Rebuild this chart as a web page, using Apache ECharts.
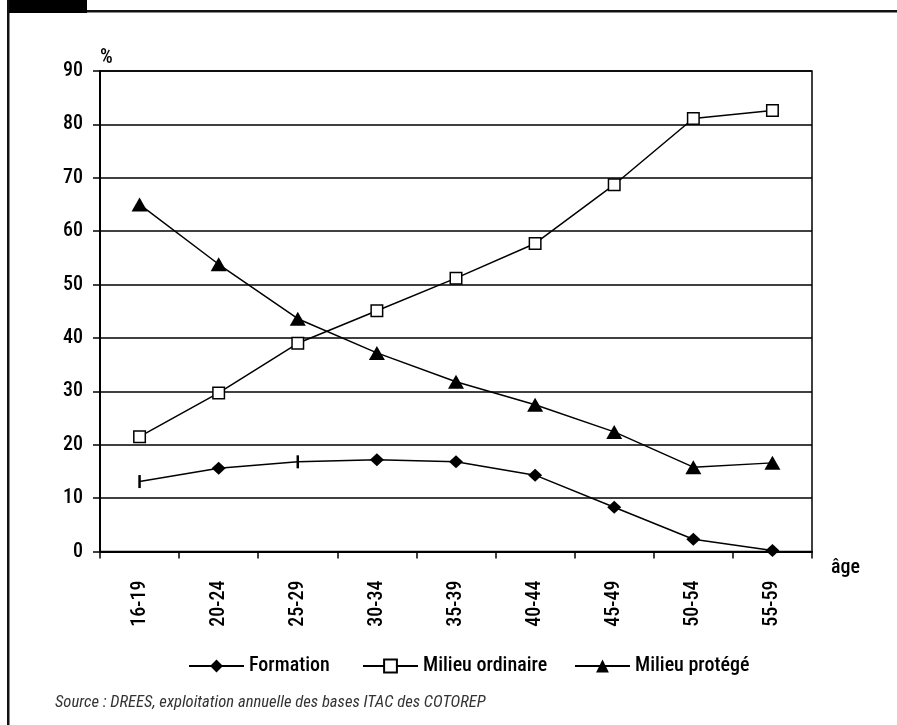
<!DOCTYPE html>
<html>
<head>
<meta charset="utf-8">
<title>Insertion selon l'âge</title>
<script src="https://cdn.jsdelivr.net/npm/echarts@6/dist/echarts.min.js"></script>
<style>
  html, body { margin: 0; padding: 0; background: #fff; }
  #chart { width: 897px; height: 725px; }
</style>
</head>
<body>
<div id="chart"></div>
<script>
// Age groups on the x axis
const ageGroups = ['16-19', '20-24', '25-29', '30-34', '35-39', '40-44', '45-49', '50-54', '55-59'];

// Shares (%) per age group
const formation = [13.1, 15.6, 16.8, 17.2, 16.8, 14.3, 8.3, 2.3, 0.2];
const milieuOrdinaire = [21.5, 29.7, 39.0, 45.1, 51.2, 57.7, 68.7, 81.1, 82.6];
const milieuProtege = [65.0, 53.8, 43.6, 37.2, 31.8, 27.5, 22.4, 15.8, 16.6];

// Y axis ticks
const yTicks = [0, 10, 20, 30, 40, 50, 60, 70, 80, 90];

const seriesNames = ['Formation', 'Milieu ordinaire', 'Milieu protégé'];
const sourceNote = 'Source : DREES, exploitation annuelle des bases ITAC des COTOREP';

const FONT = "'Roboto Condensed', 'Liberation Sans', sans-serif";
const WEIGHT = 500;
const INK = '#000';

// Points of the Formation line drawn with a thin vertical stroke instead of a diamond
const formationStrokePoints = [0, 2];

const formationData = formation.map((v, i) =>
  formationStrokePoints.includes(i)
    ? { value: v, symbol: 'rect', symbolSize: [2.5, 13] }
    : v
);

const labelStyle = { fontFamily: FONT, fontWeight: WEIGHT, fontSize: 20, color: INK };

// One legend block per series, each starting at its own x position
const legendLefts = [183, 357, 569];
const legends = seriesNames.map((name, i) => ({
  data: [name],
  left: legendLefts[i], top: 651,
  itemWidth: 55, itemHeight: 16,
  textStyle: Object.assign({}, labelStyle)
}));

const chart = echarts.init(document.getElementById('chart'), null, { renderer: 'canvas' });

chart.setOption({
  animation: false,
  backgroundColor: '#fff',
  textStyle: { fontFamily: FONT, color: INK },
  grid: {
    left: 100, right: 85, top: 71, bottom: 173.5,
    show: true, borderColor: INK, borderWidth: 1.5, backgroundColor: 'transparent'
  },
  legend: legends,
  xAxis: {
    type: 'category',
    data: ageGroups,
    boundaryGap: true,
    name: 'âge',
    nameLocation: 'end',
    nameGap: 19,
    nameTextStyle: Object.assign({ verticalAlign: 'top', padding: [6, 0, 0, 0] }, labelStyle),
    axisLine: { show: true, lineStyle: { color: INK, width: 2 } },
    axisTick: { show: true, length: 7, alignWithLabel: false, lineStyle: { color: INK, width: 1.5 } },
    axisLabel: Object.assign({ rotate: 90, margin: 29, interval: 0 }, labelStyle),
    splitLine: { show: false }
  },
  yAxis: {
    type: 'value',
    min: yTicks[0],
    max: yTicks[yTicks.length - 1],
    interval: 10,
    name: '%',
    nameLocation: 'end',
    nameGap: 3,
    nameTextStyle: Object.assign({ align: 'left', verticalAlign: 'bottom' }, labelStyle),
    axisLine: { show: true, lineStyle: { color: INK, width: 2 } },
    axisTick: { show: true, length: 7, lineStyle: { color: INK, width: 1.5 } },
    axisLabel: Object.assign({ margin: 17 }, labelStyle),
    splitLine: { show: true, lineStyle: { color: INK, width: 1.5 } }
  },
  series: [
    {
      name: seriesNames[0],
      type: 'line',
      data: formationData,
      symbol: 'diamond',
      symbolSize: [14, 13],
      showAllSymbol: true,
      lineStyle: { color: INK, width: 1.5 },
      itemStyle: { color: INK, borderWidth: 0 },
      z: 4
    },
    {
      name: seriesNames[1],
      type: 'line',
      data: milieuOrdinaire,
      symbol: 'rect',
      symbolSize: 11.5,
      showAllSymbol: true,
      lineStyle: { color: INK, width: 1.5 },
      itemStyle: { color: '#fff', borderColor: INK, borderWidth: 1.5 },
      z: 3
    },
    {
      name: seriesNames[2],
      type: 'line',
      data: milieuProtege,
      symbol: 'triangle',
      symbolSize: [16, 14],
      showAllSymbol: true,
      lineStyle: { color: INK, width: 1.5 },
      itemStyle: { color: INK, borderWidth: 0 },
      z: 3
    }
  ],
  graphic: [
    // page frame: tab, top rule and left rule
    { type: 'rect', shape: { x: 7, y: 0, width: 80, height: 13 }, style: { fill: '#000' }, silent: true },
    { type: 'rect', shape: { x: 87, y: 10, width: 810, height: 2.5 }, style: { fill: '#111' }, silent: true },
    { type: 'rect', shape: { x: 7, y: 0, width: 2.5, height: 725 }, style: { fill: '#111' }, silent: true },
    {
      type: 'text', left: 55, top: 694, silent: true,
      style: { text: sourceNote, fill: '#333', font: 'italic 16.6px ' + FONT }
    }
  ]
});
</script>
</body>
</html>
